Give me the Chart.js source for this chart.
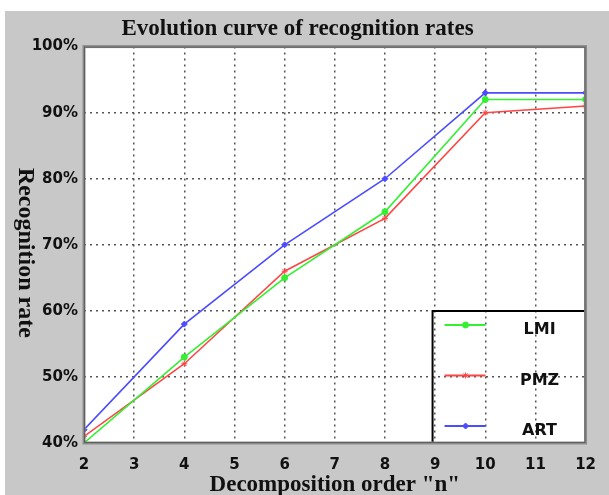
<!DOCTYPE html>
<html>
<head>
<meta charset="utf-8">
<script src="https://cdn.jsdelivr.net/npm/chart.js@4.4.0/dist/chart.umd.min.js"></script>
<style>
    body { margin: 0; background: #fff; }
    #wrap { position: absolute; left: 5px; top: 11px; width: 604px; height: 484px; background: #c8c8c8; }
</style>
</head>
<body>
<div id="wrap"><canvas id="chart" width="604" height="484"></canvas></div>
<script>
const orders = [2, 4, 6, 8, 10, 12]
const lmiRates = [40, 53, 65, 75, 92, 92]
const pmzRates = [41, 52, 66, 74, 90, 91]
const artRates = [42, 58, 70, 80, 93, 93]
const seriesNames = ['LMI', 'PMZ', 'ART']
const seriesColors = ['#33f033', '#ff4545', '#4b4bff']
const markers = ['circle', 'star', 'rectRot']

const serifBold = { family: 'Liberation Serif', weight: 'bold' }
const sansBold = { family: 'DejaVu Sans', weight: 'bold', size: 15 }

const toPoints = values => values.map((v, i) => ({ x: orders[i], y: v }))

const datasets = [lmiRates, pmzRates, artRates].map((values, i) => ({
    label: seriesNames[i],
    data: toPoints(values),
    borderColor: seriesColors[i],
    backgroundColor: seriesColors[i],
    borderWidth: 1.6,
    pointStyle: markers[i],
    pointRadius: 3,
    pointBorderWidth: 1,
    tension: 0
}))

// white plot, gray frame, legend box inside the plot, rotated y title
const decor = {
    id: 'decor',
    beforeDraw(chart) {
        const { ctx, chartArea: a } = chart
        ctx.save()
        ctx.fillStyle = '#fff'
        ctx.fillRect(a.left, a.top, a.right - a.left, a.bottom - a.top)
        ctx.restore()
    },
    afterDatasetsDraw(chart) {
        const { ctx, chartArea: a } = chart
        const left = a.right - 153
        const top = a.bottom - 132
        ctx.save()
        ctx.strokeStyle = '#000'
        ctx.lineWidth = 2
        ctx.beginPath()
        ctx.moveTo(left, a.bottom)
        ctx.lineTo(left, top)
        ctx.lineTo(a.right, top)
        ctx.stroke()
        chart.data.datasets.forEach((ds, i) => {
            const y = top + 14 + i * 50.5
            ctx.strokeStyle = ds.borderColor
            ctx.fillStyle = ds.borderColor
            ctx.lineWidth = 2
            ctx.beginPath()
            ctx.moveTo(left + 12, y)
            ctx.lineTo(left + 53, y)
            ctx.stroke()
            ctx.lineWidth = 1
            Chart.helpers.drawPoint(ctx, { pointStyle: ds.pointStyle, radius: 3, borderWidth: 1 }, left + 33, y)
            ctx.fillStyle = '#111'
            ctx.font = 'bold 16px "DejaVu Sans"'
            ctx.textAlign = 'center'
            ctx.textBaseline = 'middle'
            ctx.fillText(ds.label, left + 107, y + 5)
        })
        ctx.restore()
    },
    afterDraw(chart) {
        const { ctx, chartArea: a } = chart
        ctx.save()
        ctx.strokeStyle = '#8c8c8c'
        ctx.lineWidth = 3
        ctx.strokeRect(a.left, a.top, a.right - a.left, a.bottom - a.top)
        ctx.strokeStyle = '#5e5e5e'
        ctx.lineWidth = 1
        ctx.strokeRect(a.left + 0.5, a.top + 0.5, a.right - a.left - 1, a.bottom - a.top - 1)

        ctx.translate(20, (a.top + a.bottom) / 2 + 8)
        ctx.rotate(Math.PI / 2)
        ctx.fillStyle = '#111'
        ctx.font = 'bold 24px "Liberation Serif"'
        ctx.textAlign = 'center'
        ctx.textBaseline = 'middle'
        ctx.fillText('Recognition rate', 0, 0)
        ctx.restore()
    }
}

new Chart(document.getElementById('chart'), {
    type: 'line',
    data: { datasets: datasets },
    options: {
        responsive: false,
        animation: false,
        layout: { padding: { left: 0, right: 19, top: 0, bottom: 0 } },
        plugins: {
            legend: { display: false },
            tooltip: { enabled: false },
            title: {
                display: true,
                text: 'Evolution curve of recognition rates',
                color: '#111',
                font: { ...serifBold, size: 23 },
                padding: { top: 4, bottom: 4 }
            }
        },
        scales: {
            x: {
                type: 'linear',
                min: 2,
                max: 12,
                afterFit: s => { s.height = 52 },
                ticks: { stepSize: 1, color: '#111', font: sansBold, padding: 13 },
                grid: { color: '#555', lineWidth: 1.5, drawTicks: false },
                border: { display: false, dash: [2, 4] },
                title: {
                    display: true,
                    text: 'Decomposition order "n"',
                    color: '#111',
                    font: { ...serifBold, size: 23, lineHeight: 0.9 },
                    padding: { top: 0, bottom: 0 }
                }
            },
            y: {
                min: 40,
                max: 100,
                afterFit: s => { s.width = 79 },
                ticks: { stepSize: 10, color: '#111', font: sansBold, padding: 6, callback: v => v + '%' },
                grid: { color: '#555', lineWidth: 1.5, drawTicks: false },
                border: { display: false, dash: [2, 4] }
            }
        }
    },
    plugins: [decor]
})
</script>
</body>
</html>
